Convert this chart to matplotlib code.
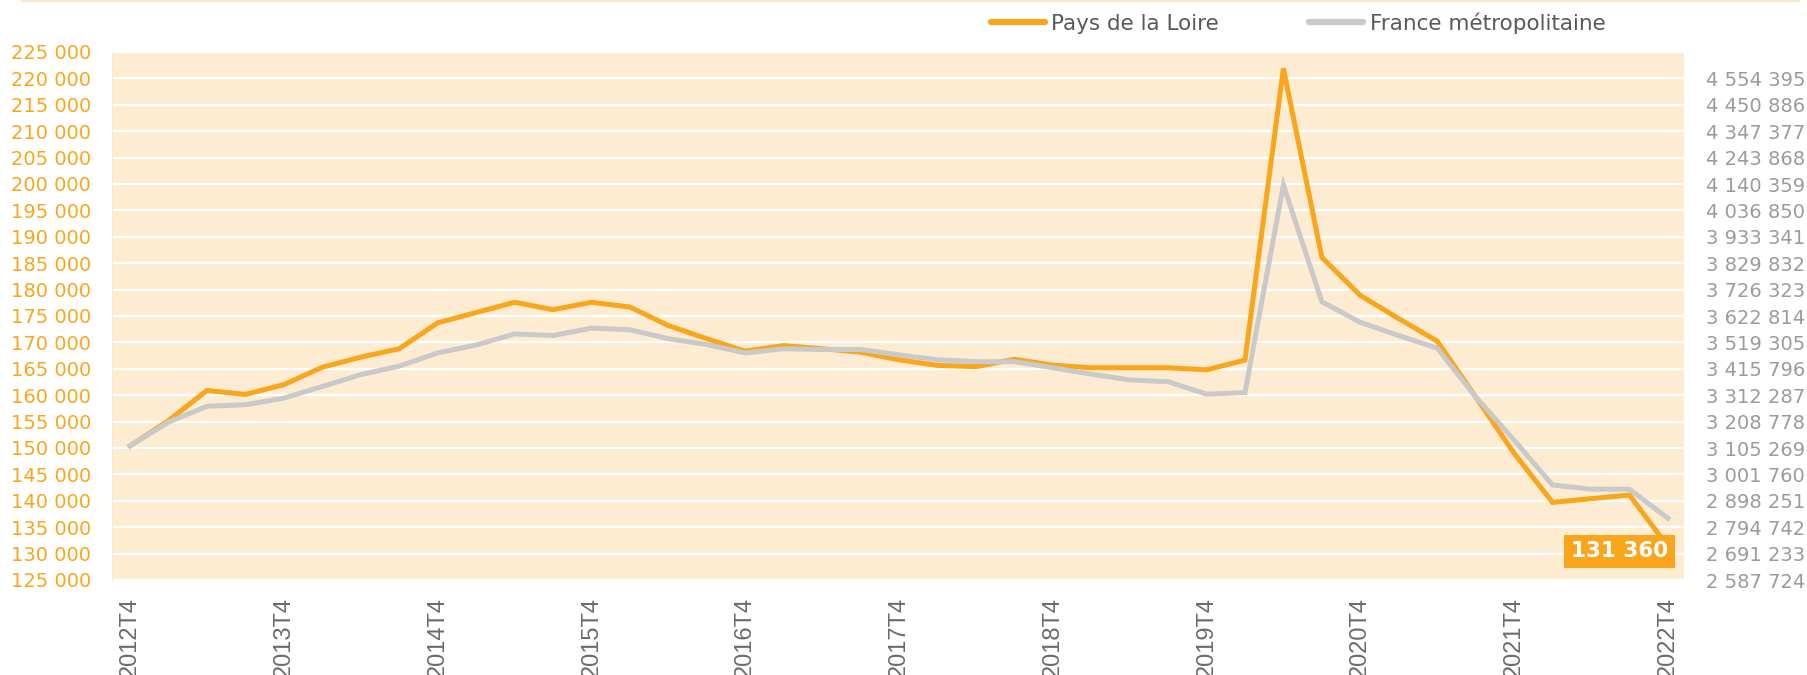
import matplotlib
matplotlib.use("Agg")
import matplotlib.pyplot as plt
from matplotlib.lines import Line2D
from matplotlib.ticker import FixedLocator, FuncFormatter

# quarters 2012T4 -> 2022T4
quarters = [f"{y}T{q}" for y in range(2012, 2023) for q in (1, 2, 3, 4)][3:]
year_labels = ["2012T4", "2013T4", "2014T4", "2015T4", "2016T4", "2017T4",
               "2018T4", "2019T4", "2020T4", "2021T4", "2022T4"]

# Pays de la Loire (left axis)
pdl = [150400, 155200, 160900, 160150, 162000, 165300, 167200, 168800, 173700, 175650,
       177600, 176200, 177600, 176700, 173200, 170700, 168350, 169400, 168800, 168150,
       166700, 165650, 165400, 166800, 165700, 165200, 165200, 165200, 164800, 166650,
       221900, 186100, 178900, 174500, 170250, 159700, 149000, 139700, 140400, 141100,
       131360]

# France metropolitaine (right axis)
fr = [3113550, 3206708, 3268813, 3275024, 3300901, 3346445, 3393024, 3426147, 3477901, 3508954,
      3552428, 3546217, 3575200, 3568989, 3533796, 3511024, 3477901, 3494463, 3491358, 3491358,
      3470656, 3450989, 3443743, 3443743, 3419936, 3395094, 3372322, 3365077, 3316427, 3322638,
      4136219, 3678709, 3597972, 3546217, 3496533, 3306076, 3136322, 2960356, 2943795, 2943795,
      2829935]

orange = "#F9A61C"
grey = "#C9C9C9"
bg = "#FDECD2"

plt.rcParams["font.family"] = ["DejaVu Sans"]

fig = plt.figure(figsize=(18.08, 6.75), dpi=100)
ax = fig.add_axes([112 / 1808, 1 - 580 / 675, (1684 - 112) / 1808, (580 - 52) / 675])
ax.set_facecolor(bg)
x = list(range(len(quarters)))

left_ticks = list(range(125000, 225001, 5000))
ax.set_ylim(125000, 225000)
ax.set_xlim(-0.47, 40.42)
ax.yaxis.set_major_locator(FixedLocator(left_ticks))
ax.yaxis.set_major_formatter(FuncFormatter(lambda v, p: f"{int(v):,}".replace(",", " ")))
ax.grid(axis="y", color="white", lw=1.6)
ax.set_axisbelow(True)
ax.tick_params(axis="y", length=0, pad=15, labelsize=14, labelcolor=orange)

tick_pos = [quarters.index(q) for q in year_labels]
ax.set_xticks(tick_pos)
ax.set_xticklabels(year_labels, rotation=90, fontsize=17, color="#6b6b6b",
                   family="Liberation Sans", va="top")
ax.tick_params(axis="x", length=0, pad=12)

for s in ["top", "right", "bottom"]:
    ax.spines[s].set_visible(False)
ax.spines["left"].set_color("#FBE6CC")

# orange series on the left axis
ax.plot(x, pdl, color=orange, lw=3.6, solid_joinstyle="miter")
ax.annotate(f"{pdl[-1]:,}".replace(",", " "), xy=(x[-1], pdl[-1]), xytext=(-48, -5),
            textcoords="offset pixels", ha="center", va="center", color="white",
            fontsize=15.5, fontweight="bold", zorder=10,
            bbox=dict(boxstyle="square,pad=0.32", fc=orange, ec="none"))

# grey series on the right axis, drawn above the orange one
ax2 = ax.twinx()
r0, rstep = 2587724, 103509
ax2.set_ylim(r0, r0 + 20 * rstep)
ax2.yaxis.set_major_locator(FixedLocator([r0 + k * rstep for k in range(20)]))
ax2.yaxis.set_major_formatter(FuncFormatter(lambda v, p: f"{int(round(v)):,}".replace(",", " ")))
ax2.tick_params(axis="y", length=0, pad=16, labelsize=14, labelcolor="#9b9b9b")
for s in ax2.spines.values():
    s.set_visible(False)
ax2.plot(x, fr, color=grey, lw=3.6, solid_joinstyle="miter")

leg = fig.legend(handles=[Line2D([], [], color=orange, lw=4.5, solid_capstyle="round"),
                          Line2D([], [], color=grey, lw=4.5, solid_capstyle="round")],
                 labels=["Pays de la Loire", "France métropolitaine"],
                 loc="center", bbox_to_anchor=(0.718, 0.966), ncol=2, frameon=False,
                 fontsize=15.5, handlelength=2.5, handletextpad=0.3, columnspacing=4.2)
for t in leg.get_texts():
    t.set_color("#595959")

fig.add_artist(Line2D([0.012, 0.995], [0.999, 0.999], color="#FBE6CC", lw=1.5))

fig.savefig("out.png", dpi=100)
